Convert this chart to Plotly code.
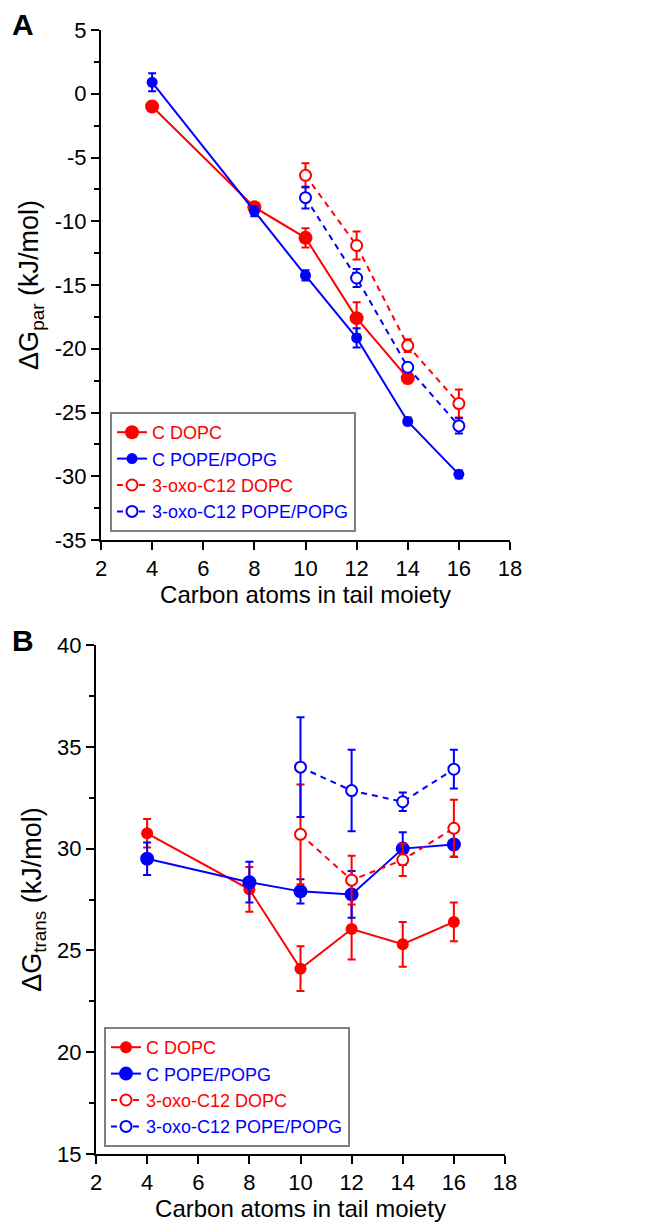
import plotly.graph_objects as go

# The page body has an 8px margin, so the figure is drawn 8px in from the top-left.
OFF = 8
W, H = 652 - OFF, 1226 - OFF

# ---------------- Panel A data ----------------
xA_c = [4, 8, 10, 12, 14]
a_c_dopc = [-1.0, -8.9, -11.3, -17.6, -22.3]
a_c_dopc_err = [0.0, 0.0, 0.75, 1.25, 0.4]

xA_cp = [4, 8, 10, 12, 14, 16]
a_c_pope = [0.9, -9.2, -14.25, -19.15, -25.7, -29.85]
a_c_pope_err = [0.7, 0.4, 0.4, 0.75, 0.3, 0.3]

xA_o = [10, 12, 14, 16]
a_o_dopc = [-6.4, -11.9, -19.75, -24.3]
a_o_dopc_err = [0.95, 1.1, 0.5, 1.1]
a_o_pope = [-8.15, -14.45, -21.45, -26.05]
a_o_pope_err = [0.85, 0.7, 0.3, 0.6]

# ---------------- Panel B data ----------------
xB_c = [4, 8, 10, 12, 14, 16]
b_c_dopc = [30.75, 28.0, 24.1, 26.05, 25.3, 26.4]
b_c_dopc_err = [0.7, 1.1, 1.1, 1.5, 1.1, 0.95]
b_c_pope = [29.5, 28.35, 27.9, 27.75, 30.0, 30.2]
b_c_pope_err = [0.8, 1.0, 0.6, 1.15, 0.8, 0.6]

xB_o = [10, 12, 14, 16]
b_o_dopc = [30.7, 28.45, 29.45, 31.0]
b_o_dopc_err = [2.45, 1.2, 0.8, 1.4]
b_o_pope = [34.0, 32.85, 32.3, 33.9]
b_o_pope_err = [2.45, 2.0, 0.45, 0.95]

# ---------------- ticks ----------------
x_ticks = [2, 4, 6, 8, 10, 12, 14, 16, 18]
yA_ticks = [-35, -30, -25, -20, -15, -10, -5, 0, 5]
yB_ticks = [15, 20, 25, 30, 35, 40]

names = ["C DOPC", "C POPE/POPG", "3-oxo-C12 DOPC", "3-oxo-C12 POPE/POPG"]
RED, BLUE = "#ff0000", "#0000ff"
FONT = "Liberation Sans, Arial, sans-serif"


def col_name(n, c):
    return f"<span style='color:{c}'>{n}</span>"


def add_series(fig, x, y, err, name, color, filled, size, xa, ya, legend):
    if filled:
        marker = dict(symbol="circle", size=size, color=color,
                      line=dict(width=0, color=color))
        line = dict(color=color, width=2)
    else:
        marker = dict(symbol="circle", size=size, color="white",
                      line=dict(width=2, color=color))
        line = dict(color=color, width=2, dash="6px,5px")
    fig.add_trace(go.Scatter(
        x=x, y=y, mode="lines+markers", name=col_name(name, color),
        marker=marker, line=line,
        error_y=dict(type="data", array=err, visible=True, color=color,
                     thickness=2, width=4),
        xaxis=xa, yaxis=ya, legend=legend, cliponaxis=False))


fig = go.Figure()
# Panel A
add_series(fig, xA_c, a_c_dopc, a_c_dopc_err, names[0], RED, True, 14, "x", "y", "legend")
add_series(fig, xA_cp, a_c_pope, a_c_pope_err, names[1], BLUE, True, 11, "x", "y", "legend")
add_series(fig, xA_o, a_o_dopc, a_o_dopc_err, names[2], RED, False, 11, "x", "y", "legend")
add_series(fig, xA_o, a_o_pope, a_o_pope_err, names[3], BLUE, False, 11, "x", "y", "legend")
# Panel B
add_series(fig, xB_c, b_c_dopc, b_c_dopc_err, names[0], RED, True, 12, "x2", "y2", "legend2")
add_series(fig, xB_c, b_c_pope, b_c_pope_err, names[1], BLUE, True, 14, "x2", "y2", "legend2")
add_series(fig, xB_o, b_o_dopc, b_o_dopc_err, names[2], RED, False, 11, "x2", "y2", "legend2")
add_series(fig, xB_o, b_o_pope, b_o_pope_err, names[3], BLUE, False, 11, "x2", "y2", "legend2")


def px_x(p):
    return (p - OFF) / W


def px_y(p):
    return 1 - (p - OFF) / H


axis_common = dict(
    showline=True, linecolor="black", linewidth=2, mirror=False,
    ticks="outside", ticklen=8, tickwidth=2, tickcolor="black",
    showgrid=False, zeroline=False, automargin=False,
    tickfont=dict(family=FONT, size=22, color="black"),
)

xtitle = dict(text="Carbon atoms in tail moiety",
              font=dict(family=FONT, size=24, color="black"), standoff=4)

fig.update_layout(
    template="none",
    width=W, height=H,
    margin=dict(l=0, r=0, t=0, b=0, autoexpand=False),
    paper_bgcolor="white", plot_bgcolor="white",
    font=dict(family=FONT, color="black"),
    xaxis=dict(**axis_common, domain=[px_x(101), px_x(510)], range=[2, 18],
               tickvals=x_ticks, ticktext=[str(v) for v in x_ticks],
               anchor="y", title=xtitle),
    yaxis=dict(**axis_common, domain=[px_y(540), px_y(30)], range=[-35, 5],
               tickvals=yA_ticks, ticktext=[str(v) for v in yA_ticks],
               anchor="x",
               minor=dict(ticks="outside", ticklen=5, tickwidth=2,
                          tickcolor="black", dtick=2.5, tick0=-35),
               title=dict(text="ΔG<sub>par</sub> (kJ/mol)",
                          font=dict(family=FONT, size=27, color="black"),
                          standoff=8)),
    xaxis2=dict(**axis_common, domain=[px_x(96), px_x(505)], range=[2, 18],
                tickvals=x_ticks, ticktext=[str(v) for v in x_ticks],
                anchor="y2", title=xtitle),
    yaxis2=dict(**axis_common, domain=[px_y(1154), px_y(645)], range=[15, 40],
                tickvals=yB_ticks, ticktext=[str(v) for v in yB_ticks],
                anchor="x2",
                minor=dict(ticks="outside", ticklen=5, tickwidth=2,
                           tickcolor="black", dtick=2.5, tick0=15),
                title=dict(text="ΔG<sub>trans</sub> (kJ/mol)",
                           font=dict(family=FONT, size=27, color="black"),
                           standoff=8)),
    legend=dict(x=px_x(110), y=px_y(412), xanchor="left", yanchor="top",
                bordercolor="#808080", borderwidth=2, bgcolor="white",
                font=dict(family=FONT, size=18), tracegroupgap=0,
                itemwidth=30),
    legend2=dict(x=px_x(104), y=px_y(1027), xanchor="left", yanchor="top",
                 bordercolor="#808080", borderwidth=2, bgcolor="white",
                 font=dict(family=FONT, size=18), tracegroupgap=0,
                 itemwidth=30),
    annotations=[
        dict(text="<b>A</b>", x=px_x(10), y=px_y(6), xref="paper", yref="paper",
             xanchor="left", yanchor="top", showarrow=False,
             font=dict(family=FONT, size=30, color="black")),
        dict(text="<b>B</b>", x=px_x(10), y=px_y(622), xref="paper", yref="paper",
             xanchor="left", yanchor="top", showarrow=False,
             font=dict(family=FONT, size=30, color="black")),
    ],
)

fig.write_html("out.html")
